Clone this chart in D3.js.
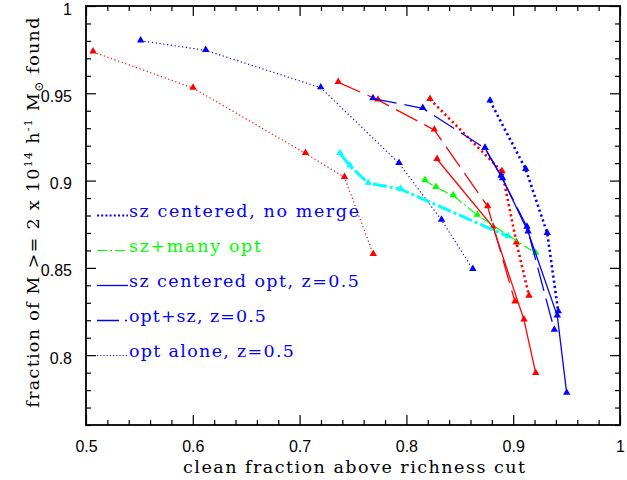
<!DOCTYPE html>
<html>
<head>
<meta charset="utf-8">
<script src="https://cdn.jsdelivr.net/npm/d3@7"></script>
<style>
  body { margin: 0; background: #fff; }
  svg { display: block; }
  .tick text { font-family: "Liberation Sans", Arial, sans-serif; font-size: 16px; }
  .serif { font-family: "DejaVu Serif", "Liberation Serif", serif; }
</style>
</head>
<body>
<svg id="chart"></svg>
<script>
const width = 627, height = 480;

// axis ticks
const xTicks = [0.5, 0.6, 0.7, 0.8, 0.9, 1];
const xTickLabels = ["0.5", "0.6", "0.7", "0.8", "0.9", "1"];
const yTicks = [0.8, 0.85, 0.9, 0.95, 1];
const yTickLabels = ["0.8", "0.85", "0.9", "0.95", "1"];

// series: [clean fraction, fraction found]
const optAloneRed = [[0.5066, 0.9737], [0.6002, 0.9530], [0.7055, 0.9156], [0.7420, 0.9019], [0.7690, 0.8578]];
const optAloneBlue = [[0.5512, 0.9801], [0.6121, 0.9746], [0.7198, 0.9532], [0.7931, 0.9099], [0.8329, 0.8774], [0.8622, 0.8492]];
const optSzRed = [[0.7362, 0.9563], [0.7734, 0.9462], [0.8261, 0.9290], [0.8761, 0.8851], [0.9017, 0.8305]];
const optSzBlue = [[0.7687, 0.9470], [0.8153, 0.9414], [0.8736, 0.9185], [0.8886, 0.9026], [0.9129, 0.8734], [0.9385, 0.8144]];
const noMergeRed = [[0.8221, 0.9466], [0.8895, 0.9052], [0.9031, 0.8643], [0.9148, 0.8339]];
const noMergeBlue = [[0.8783, 0.9456], [0.9117, 0.9065], [0.9319, 0.8698], [0.9422, 0.8249]];
const centeredRed = [[0.8287, 0.9122], [0.8811, 0.8734], [0.9101, 0.8202], [0.9211, 0.7896]];
const centeredBlue = [[0.8736, 0.9185], [0.8900, 0.9012], [0.9139, 0.8707], [0.9413, 0.8225], [0.9501, 0.7782]];
const manyOptCyan = [[0.7378, 0.9156], [0.7472, 0.9084], [0.7643, 0.8985], [0.7945, 0.8951], [0.8954, 0.8679]];
const manyOptGreen = [[0.8174, 0.9001], [0.8277, 0.8961], [0.8439, 0.8914], [0.8664, 0.8802], [0.9211, 0.8584]];

const legendLabels = ["sz centered, no merge", "sz+many opt", "sz centered opt, z=0.5", "opt+sz, z=0.5", "opt alone, z=0.5"];

// line styles
const styles = {
  thinDot:  { w: 1.2, dash: "1.2,2.6" },
  thickDot: { w: 2.6, dash: "2.2,3" },
  longDash: { w: 1.3, dash: "24,8" },
  solid:    { w: 1.3, dash: null },
  dashDot:  { w: 1.2, dash: "9,3,2,3" },
  thickDashDot: { w: 3, dash: "14,3,3,3" }
};

const series = [
  { data: optAloneRed, color: "#ff0000", style: "thinDot" },
  { data: optAloneBlue, color: "#0000ff", style: "thinDot" },
  { data: optSzRed, color: "#ff0000", style: "longDash" },
  { data: noMergeRed, color: "#ff0000", style: "thickDot" },
  { data: centeredRed, color: "#ff0000", style: "solid" },
  { data: manyOptCyan, color: "#00ffff", style: "thickDashDot" },
  { data: manyOptGreen, color: "#00ff00", style: "dashDot" },
  { data: optSzBlue, color: "#0000ff", style: "longDash" },
  { data: centeredBlue, color: "#0000ff", style: "solid" },
  { data: noMergeBlue, color: "#0000ff", style: "thickDot" }
];

const margin = { left: 86, right: 7, top: 6, bottom: 55 };
const x = d3.scaleLinear().domain([0.5, 1]).range([margin.left, width - margin.right]);
const y = d3.scaleLinear().domain([0.76, 1]).range([height - margin.bottom, margin.top]);

const svg = d3.select("#chart").attr("width", width).attr("height", height);

const x0 = x.range()[0], x1 = x.range()[1], y0 = y.range()[0], y1 = y.range()[1];

//minor ticks
const xMinor = d3.range(0.5, 1.0001, 0.02).filter(v => !xTicks.some(t => Math.abs(t - v) < 1e-6));
const yMinor = d3.range(0.76, 1.0001, 0.01).filter(v => !yTicks.some(t => Math.abs(t - v) < 1e-6));

const axisStyle = g => g.call(g => g.select(".domain").remove())
  .call(g => g.selectAll("line").attr("stroke", "#000").attr("stroke-width", 1.2));

svg.append("g").attr("transform", `translate(0,${y0})`)
  .call(d3.axisBottom(x).tickValues(xTicks).tickSize(-10).tickPadding(16).tickFormat((d, i) => xTickLabels[i]))
  .call(axisStyle)
  .call(g => g.selectAll("text").attr("fill", "#000"));
svg.append("g").attr("transform", `translate(0,${y0})`)
  .call(d3.axisBottom(x).tickValues(xMinor).tickSize(-5).tickFormat(""))
  .call(axisStyle);
svg.append("g").attr("transform", `translate(0,${y1})`)
  .call(d3.axisTop(x).tickValues(xTicks).tickSize(-10).tickFormat(""))
  .call(axisStyle);
svg.append("g").attr("transform", `translate(0,${y1})`)
  .call(d3.axisTop(x).tickValues(xMinor).tickSize(-5).tickFormat(""))
  .call(axisStyle);

svg.append("g").attr("transform", `translate(${x0},0)`)
  .call(d3.axisLeft(y).tickValues(yTicks).tickSize(-10).tickPadding(14).tickFormat((d, i) => yTickLabels[i]))
  .call(axisStyle)
  .call(g => g.selectAll("text").attr("fill", "#000").attr("dy", "0.5em"));
svg.append("g").attr("transform", `translate(${x0},0)`)
  .call(d3.axisLeft(y).tickValues(yMinor).tickSize(-5).tickFormat(""))
  .call(axisStyle);
svg.append("g").attr("transform", `translate(${x1},0)`)
  .call(d3.axisRight(y).tickValues(yTicks).tickSize(-10).tickFormat(""))
  .call(axisStyle);
svg.append("g").attr("transform", `translate(${x1},0)`)
  .call(d3.axisRight(y).tickValues(yMinor).tickSize(-5).tickFormat(""))
  .call(axisStyle);

//frame
svg.append("rect")
  .attr("x", x0).attr("y", y1)
  .attr("width", x1 - x0).attr("height", y0 - y1)
  .attr("fill", "none").attr("stroke", "#000").attr("stroke-width", 1.8);

//clip
svg.append("clipPath").attr("id", "plotclip").append("rect")
  .attr("x", x0).attr("y", y1).attr("width", x1 - x0).attr("height", y0 - y1);

const plot = svg.append("g").attr("clip-path", "url(#plotclip)");

const line = d3.line().x(d => x(d[0])).y(d => y(d[1]));
const tri = d3.symbol().type(d3.symbolTriangle).size(24);

series.forEach(s => {
  const st = styles[s.style];
  plot.append("path")
    .datum(s.data)
    .attr("d", line)
    .attr("fill", "none")
    .attr("stroke", s.color)
    .attr("stroke-width", st.w)
    .attr("stroke-dasharray", st.dash);
  plot.selectAll(null)
    .data(s.data)
    .join("path")
    .attr("d", tri)
    .attr("transform", d => `translate(${x(d[0])},${y(d[1]) - 0.5})`)
    .attr("fill", s.color);
});

//legend
const legendStyles = [
  { color: "#0000ff", textColor: "#0000ff", len: 230 },
  { color: "#00ff00", textColor: "#00ff00", len: 132 },
  { color: "#0000ff", textColor: "#0000ff", len: 230 },
  { color: "#0000ff", textColor: "#0000ff", len: 137 },
  { color: "#0000ff", textColor: "#0000ff", len: 165 }
];
const legendDash = ["2,2.2", "10,3,2,3", null, "22,6", "1.2,2"];
const legendWidth = [2, 1.2, 1.3, 1.3, 1.1];

const legend = svg.append("g");
legendLabels.forEach((label, i) => {
  const ls = legendStyles[i];
  const by = 216.5 + i * 35;
  legend.append("line")
    .attr("x1", 97).attr("x2", i === 3 ? 127 : 128)
    .attr("y1", by - 1).attr("y2", by - 1)
    .attr("stroke", ls.color)
    .attr("stroke-width", legendWidth[i])
    .attr("stroke-dasharray", legendDash[i]);
  legend.append("text")
    .attr("class", "serif")
    .attr("x", 129).attr("y", by)
    .attr("font-size", 17.5)
    .attr("fill", ls.textColor)
    .attr("textLength", ls.len)
    .attr("lengthAdjust", "spacing")
    .text(label);
});

//axis titles
svg.append("text")
  .attr("class", "serif")
  .attr("x", 354).attr("y", 473)
  .attr("text-anchor", "middle")
  .attr("font-size", 17.5)
  .attr("textLength", 342)
  .attr("lengthAdjust", "spacing")
  .text("clean fraction above richness cut");

const yTitle = svg.append("text")
  .attr("class", "serif")
  .attr("transform", "translate(39,212) rotate(-90)")
  .attr("text-anchor", "middle")
  .attr("letter-spacing", 1.3)
  .attr("font-size", 17.5);
yTitle.append("tspan").text("fraction of M >= 2 x 10");
yTitle.append("tspan").attr("font-size", 11).attr("dy", -7).text("14");
yTitle.append("tspan").attr("dy", 7).text(" h");
yTitle.append("tspan").attr("font-size", 11).attr("dy", -7).text("-1");
yTitle.append("tspan").attr("dy", 7).text(" M");
yTitle.append("tspan").attr("font-size", 12).attr("dy", 4).text("\u2299");
yTitle.append("tspan").attr("dy", -4).text(" found");
</script>
</body>
</html>
